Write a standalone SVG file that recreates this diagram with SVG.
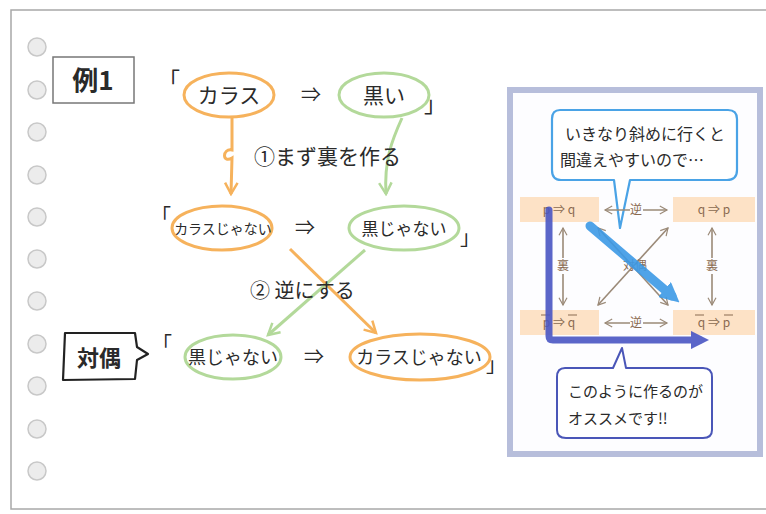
<svg xmlns="http://www.w3.org/2000/svg" width="766" height="514" viewBox="0 0 766 514">
<defs>
<style>
.t{font-family:"Noto Sans CJK JP","Noto Sans",sans-serif;fill:#2a2a2a}
.hole{fill:#ececec;stroke:#c8c8c8;stroke-width:1.5}
.or{fill:none;stroke:#f6b25c;stroke-width:3}
.gr{fill:none;stroke:#b3d99a;stroke-width:3}
.pe{fill:#fde2c6}
.gt{font-family:"Noto Sans CJK JP","Noto Sans",sans-serif;fill:#8a6a50;font-size:12px}
.ga{fill:none;stroke:#9b8a78;stroke-width:1.6}
</style>
<marker id="mo" viewBox="0 0 12 12" refX="10" refY="6" markerWidth="5" markerHeight="5" orient="auto" markerUnits="strokeWidth"><path d="M1,1 L10,6 L1,11" fill="none" stroke="#f6b25c" stroke-width="2"/></marker>
<marker id="mg" viewBox="0 0 12 12" refX="10" refY="6" markerWidth="5" markerHeight="5" orient="auto" markerUnits="strokeWidth"><path d="M1,1 L10,6 L1,11" fill="none" stroke="#b3d99a" stroke-width="2"/></marker>
<marker id="mb" viewBox="0 0 12 12" refX="10" refY="6" markerWidth="6" markerHeight="6" orient="auto-start-reverse" markerUnits="strokeWidth"><path d="M1,1 L10,6 L1,11" fill="none" stroke="#9b8a78" stroke-width="1.5"/></marker>
<marker id="mlb" viewBox="0 0 10 10" refX="5" refY="5" markerWidth="2.2" markerHeight="2.2" orient="auto" markerUnits="strokeWidth"><path d="M0,0 L10,5 L0,10 Z" fill="#3d9ae6"/></marker>
<marker id="mdb" viewBox="0 0 10 10" refX="5" refY="5" markerWidth="2.6" markerHeight="2.6" orient="auto" markerUnits="strokeWidth"><path d="M0,0 L10,5 L0,10 Z" fill="#4a56c4"/></marker>
</defs>

<rect x="0" y="0" width="766" height="514" fill="#ffffff"/>
<rect x="11" y="10" width="780" height="499" fill="none" stroke="#a8a8a8" stroke-width="1.5"/>

<g id="holes">
<circle class="hole" cx="37" cy="47" r="9"/>
<circle class="hole" cx="37" cy="90" r="9"/>
<circle class="hole" cx="37" cy="132" r="9"/>
<circle class="hole" cx="37" cy="175" r="9"/>
<circle class="hole" cx="37" cy="217" r="9"/>
<circle class="hole" cx="37" cy="259" r="9"/>
<circle class="hole" cx="37" cy="301" r="9"/>
<circle class="hole" cx="37" cy="344" r="9"/>
<circle class="hole" cx="37" cy="386" r="9"/>
<circle class="hole" cx="37" cy="429" r="9"/>
<circle class="hole" cx="37" cy="471" r="9"/>
</g>

<g id="example-label">
<rect x="53" y="57" width="81" height="46" fill="#fff" stroke="#777" stroke-width="1.5"/>
<text class="t" x="93" y="90" font-size="26" font-weight="bold" text-anchor="middle">例1</text>
</g>

<g id="connectors">
<path class="or" d="M232,118 L232,150 C222,148 222,164 232,158 L231,194" marker-end="url(#mo)"/>
<path class="gr" d="M402,118 C392,140 384,160 386,194" marker-end="url(#mg)"/>
<path class="or" d="M290,249 L376,333" marker-end="url(#mo)"/>
<path class="gr" d="M365,250 L268,335" marker-end="url(#mg)"/>
</g>

<g id="row1">
<text class="t" x="158" y="88" font-size="22">「</text>
<g id="n-karasu">
<ellipse class="or" cx="229" cy="95" rx="45" ry="22"/>
<text class="t" x="229" y="103" font-size="21" text-anchor="middle">カラス</text>
</g>
<text class="t" x="311" y="102" font-size="20" text-anchor="middle">⇒</text>
<g id="n-kuroi">
<ellipse class="gr" cx="384" cy="95" rx="45" ry="22"/>
<text class="t" x="384" y="103" font-size="21" text-anchor="middle">黒い</text>
</g>
<text class="t" x="424" y="112" font-size="22">」</text>
</g>

<text class="t" x="254" y="164" font-size="21">①まず裏を作る</text>

<g id="row2">
<text class="t" x="151" y="224" font-size="20">「</text>
<g id="n-karasu-janai">
<ellipse class="or" cx="222" cy="228" rx="50" ry="22"/>
<text class="t" x="223" y="234" font-size="14" text-anchor="middle">カラスじゃない</text>
</g>
<text class="t" x="305" y="235" font-size="20" text-anchor="middle">⇒</text>
<g id="n-kuro-janai">
<ellipse class="gr" cx="404" cy="228" rx="55" ry="22"/>
<text class="t" x="404" y="235" font-size="17" text-anchor="middle">黒じゃない</text>
</g>
<text class="t" x="460" y="245" font-size="20">」</text>
</g>

<text class="t" x="250" y="298" font-size="20">② 逆にする</text>

<g id="taigu-label">
<path d="M65,333 L135,333 L137,347 L148,354 L137,360 L135,379 L63,380 Z" fill="#fff" stroke="#222" stroke-width="2.2" stroke-linejoin="round"/>
<text class="t" x="99" y="366" font-size="22" font-weight="bold" text-anchor="middle">対偶</text>
</g>

<g id="row3">
<text class="t" x="152" y="352" font-size="20">「</text>
<g id="n-kuro-janai-2">
<ellipse class="gr" cx="233" cy="357" rx="48" ry="22"/>
<text class="t" x="233" y="364" font-size="18" text-anchor="middle">黒じゃない</text>
</g>
<text class="t" x="314" y="364" font-size="20" text-anchor="middle">⇒</text>
<g id="n-karasu-janai-2">
<ellipse class="or" cx="420" cy="357" rx="70" ry="23"/>
<text class="t" x="419" y="364" font-size="18" text-anchor="middle">カラスじゃない</text>
</g>
<text class="t" x="486" y="372" font-size="20">」</text>
</g>

<g id="panel">
<rect x="510" y="90" width="250" height="364" fill="#fdfdff" stroke="#b7bedb" stroke-width="6"/>

<g id="bubble-top">
<path d="M560,110 L728,110 Q737,110 737,119 L737,170 Q737,180 727,180 L630,180 L620,228 L614,180 L561,180 Q552,180 552,170 L552,119 Q552,110 560,110 Z" fill="#fff" stroke="#4aa3e6" stroke-width="2.2" stroke-linejoin="round"/>
<text class="t" x="645" y="140" font-size="16" text-anchor="middle">いきなり斜めに行くと</text>
<text class="t" x="632" y="166" font-size="16" text-anchor="middle">間違えやすいので…</text>
</g>

<g id="grid-boxes">
<rect class="pe" x="520" y="197" width="79" height="25"/>
<rect class="pe" x="673" y="197" width="82" height="25"/>
<rect class="pe" x="520" y="310" width="79" height="25"/>
<rect class="pe" x="673" y="310" width="82" height="25"/>
<text class="gt" x="559" y="214" text-anchor="middle">p ⇒ q</text>
<text class="gt" x="714" y="214" text-anchor="middle">q ⇒ p</text>
<text class="gt" x="559" y="327" text-anchor="middle">p ⇒ q</text>
<text class="gt" x="714" y="327" text-anchor="middle">q ⇒ p</text>
<path d="M541,315 L550,315 M568,315 L577,315 M695,315 L704,315 M724,315 L733,315" stroke="#8a6a50" stroke-width="1.2"/>
</g>

<g id="grid-arrows">
<path class="ga" d="M605,210 L630,210 M643,210 L667,210" marker-start="url(#mb)" marker-end="url(#mb)"/>
<text class="gt" x="636" y="214" text-anchor="middle">逆</text>
<path class="ga" d="M605,323 L630,323 M643,323 L667,323" marker-start="url(#mb)" marker-end="url(#mb)"/>
<text class="gt" x="636" y="327" text-anchor="middle">逆</text>
<path class="ga" d="M563,228 L563,258 M563,274 L563,305" marker-start="url(#mb)" marker-end="url(#mb)"/>
<text class="gt" x="563" y="270" text-anchor="middle">裏</text>
<path class="ga" d="M712,228 L712,258 M712,274 L712,305" marker-start="url(#mb)" marker-end="url(#mb)"/>
<text class="gt" x="712" y="270" text-anchor="middle">裏</text>
<path class="ga" d="M598,228 L668,305" marker-start="url(#mb)" marker-end="url(#mb)"/>
<path class="ga" d="M668,228 L598,305" marker-start="url(#mb)" marker-end="url(#mb)"/>
<text class="gt" x="635" y="270" text-anchor="middle">対偶</text>
</g>

<path d="M590,226 L672,296" fill="none" stroke="#3d9ae6" stroke-width="9" stroke-linecap="round" marker-end="url(#mlb)" opacity="0.9"/>
<path d="M549,210 L549,336 Q549,340 553,340 L700,340" fill="none" stroke="#4a56c4" stroke-width="7" stroke-linecap="round" marker-end="url(#mdb)" opacity="0.9"/>

<g id="bubble-bottom">
<path d="M565,368 L613,368 L622,348 L626,368 L703,368 Q712,368 712,377 L712,430 Q712,438 703,438 L566,438 Q557,438 557,430 L557,377 Q557,368 565,368 Z" fill="#fff" stroke="#4a56b8" stroke-width="2" stroke-linejoin="round"/>
<text class="t" x="568" y="397" font-size="15">このように作るのが</text>
<text class="t" x="568" y="424" font-size="15">オススメです!!</text>
</g>
</g>
</svg>
